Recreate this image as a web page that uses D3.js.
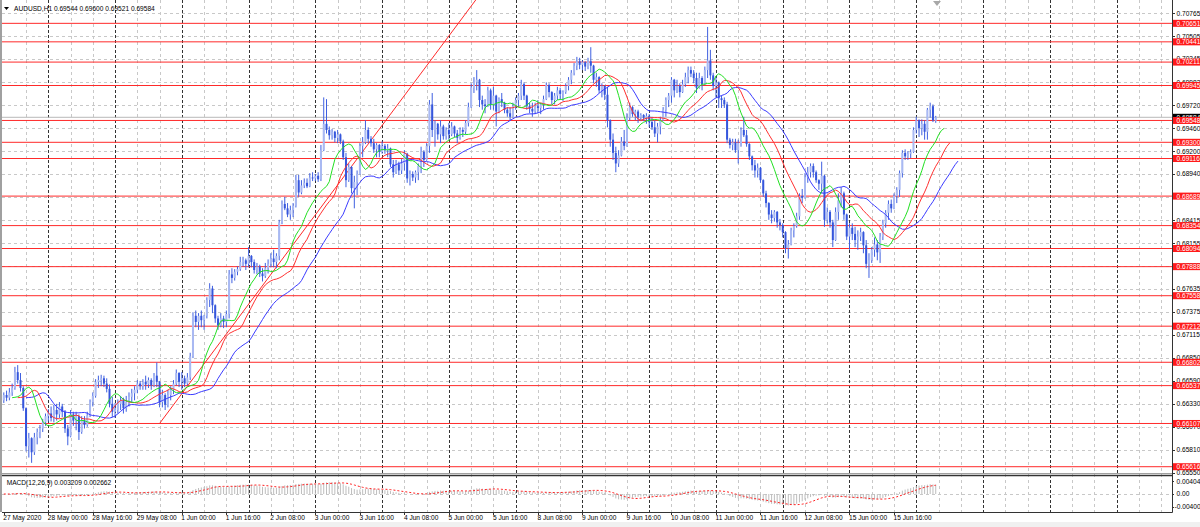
<!DOCTYPE html>
<html><head><meta charset="utf-8">
<script src="https://cdn.jsdelivr.net/npm/d3@7"></script>
<style>html,body{margin:0;padding:0;background:#fff;overflow:hidden}text{font-family:"Liberation Sans",Arial,sans-serif;font-size:6.6px}</style>
</head><body><svg id="c" width="1200" height="527"></svg>
<script>
// ---------------- DATA ----------------
const symbolTitle = "AUDUSD,H1 0.69544 0.69600 0.69521 0.69584";
const macdTitle = "MACD(12,26,9) 0.003209 0.002662";
const startTime = new Date(2020, 4, 27, 8); // first H1 bar
// [open, high, low, close]
const candles = [
[0.6637,0.6646,0.6634,0.6643],[0.6643,0.6648,0.6636,0.6640],[0.6640,0.6651,0.6637,0.6646],[0.6646,0.6656,0.6642,0.6651],
[0.6651,0.6675,0.6649,0.6669],[0.6669,0.6677,0.6656,0.6660],[0.6660,0.6668,0.6647,0.6651],[0.6651,0.6653,0.6625,0.6628],
[0.6628,0.6629,0.6579,0.6585],[0.6585,0.6600,0.6572,0.6594],[0.6594,0.6595,0.6566,0.6578],[0.6578,0.6600,0.6575,0.6595],
[0.6595,0.6605,0.6587,0.6601],[0.6601,0.6609,0.6594,0.6605],[0.6605,0.6616,0.6601,0.6612],[0.6612,0.6622,0.6608,0.6619],
[0.6619,0.6627,0.6613,0.6622],[0.6622,0.6630,0.6613,0.6617],[0.6617,0.6632,0.6612,0.6626],[0.6626,0.6633,0.6614,0.6621],
[0.6621,0.6635,0.6617,0.6630],[0.6630,0.6633,0.6618,0.6624],[0.6624,0.6626,0.6600,0.6605],[0.6605,0.6609,0.6586,0.6596],
[0.6596,0.6626,0.6595,0.6621],[0.6621,0.6624,0.6608,0.6614],[0.6614,0.6624,0.6603,0.6619],[0.6619,0.6621,0.6592,0.6601],
[0.6601,0.6619,0.6599,0.6614],[0.6614,0.6619,0.6605,0.6609],[0.6609,0.6624,0.6607,0.6620],[0.6620,0.6638,0.6618,0.6635],
[0.6635,0.6646,0.6630,0.6642],[0.6642,0.6661,0.6640,0.6658],[0.6658,0.6665,0.6651,0.6660],[0.6660,0.6666,0.6653,0.6662],
[0.6662,0.6665,0.6652,0.6656],[0.6656,0.6662,0.6646,0.6650],[0.6650,0.6655,0.6629,0.6633],[0.6633,0.6641,0.6618,0.6624],
[0.6624,0.6634,0.6617,0.6626],[0.6626,0.6638,0.6622,0.6633],[0.6633,0.6642,0.6626,0.6637],[0.6637,0.6640,0.6622,0.6628],
[0.6628,0.6642,0.6624,0.6635],[0.6635,0.6646,0.6630,0.6641],[0.6641,0.6650,0.6634,0.6645],[0.6645,0.6653,0.6637,0.6649],
[0.6649,0.6660,0.6645,0.6656],[0.6656,0.6659,0.6649,0.6653],[0.6653,0.6661,0.6649,0.6658],[0.6658,0.6665,0.6649,0.6655],
[0.6655,0.6663,0.6651,0.6660],[0.6660,0.6662,0.6649,0.6654],[0.6654,0.6668,0.6652,0.6665],[0.6665,0.6680,0.6652,0.6658],
[0.6658,0.6659,0.6629,0.6635],[0.6635,0.6649,0.6629,0.6643],[0.6643,0.6645,0.6626,0.6632],[0.6632,0.6649,0.6629,0.6643],
[0.6643,0.6653,0.6637,0.6649],[0.6649,0.6660,0.6644,0.6656],[0.6656,0.6672,0.6654,0.6668],[0.6668,0.6669,0.6652,0.6658],
[0.6658,0.6669,0.6649,0.6662],[0.6662,0.6665,0.6652,0.6656],[0.6656,0.6668,0.6654,0.6663],[0.6663,0.6691,0.6660,0.6687],
[0.6687,0.6737,0.6685,0.6733],[0.6733,0.6739,0.6720,0.6726],[0.6726,0.6736,0.6717,0.6733],[0.6733,0.6739,0.6720,0.6728],
[0.6728,0.6734,0.6717,0.6733],[0.6733,0.6754,0.6730,0.6751],[0.6751,0.6770,0.6743,0.6764],[0.6764,0.6767,0.6736,0.6745],
[0.6745,0.6746,0.6725,0.6730],[0.6730,0.6733,0.6717,0.6722],[0.6722,0.6736,0.6720,0.6730],[0.6730,0.6733,0.6719,0.6726],
[0.6726,0.6739,0.6720,0.6735],[0.6735,0.6785,0.6730,0.6780],[0.6780,0.6787,0.6770,0.6776],[0.6776,0.6786,0.6773,0.6783],
[0.6783,0.6789,0.6779,0.6786],[0.6786,0.6800,0.6784,0.6794],[0.6794,0.6800,0.6789,0.6796],[0.6796,0.6798,0.6785,0.6792],
[0.6792,0.6811,0.6788,0.6801],[0.6801,0.6802,0.6788,0.6794],[0.6794,0.6797,0.6781,0.6785],[0.6785,0.6793,0.6780,0.6789],
[0.6789,0.6791,0.6777,0.6781],[0.6781,0.6787,0.6772,0.6778],[0.6778,0.6793,0.6776,0.6787],[0.6787,0.6797,0.6781,0.6792],
[0.6792,0.6804,0.6788,0.6798],[0.6798,0.6808,0.6788,0.6794],[0.6794,0.6804,0.6787,0.6801],[0.6801,0.6842,0.6796,0.6839],
[0.6839,0.6864,0.6837,0.6860],[0.6860,0.6868,0.6853,0.6855],[0.6855,0.6861,0.6845,0.6848],[0.6848,0.6858,0.6842,0.6853],
[0.6853,0.6861,0.6845,0.6858],[0.6858,0.6893,0.6856,0.6887],[0.6887,0.6893,0.6868,0.6873],[0.6873,0.6887,0.6871,0.6881],
[0.6881,0.6889,0.6878,0.6884],[0.6884,0.6889,0.6878,0.6880],[0.6880,0.6895,0.6879,0.6890],[0.6890,0.6896,0.6886,0.6889],
[0.6889,0.6894,0.6886,0.6892],[0.6892,0.6896,0.6885,0.6888],[0.6888,0.6927,0.6886,0.6921],[0.6921,0.6981,0.6920,0.6951],
[0.6951,0.6979,0.6940,0.6944],[0.6944,0.6948,0.6933,0.6938],[0.6938,0.6945,0.6933,0.6942],[0.6942,0.6943,0.6930,0.6935],
[0.6935,0.6944,0.6929,0.6939],[0.6939,0.6940,0.6928,0.6931],[0.6931,0.6933,0.6910,0.6913],[0.6913,0.6918,0.6879,0.6887],
[0.6887,0.6906,0.6885,0.6902],[0.6902,0.6903,0.6872,0.6878],[0.6878,0.6892,0.6855,0.6885],[0.6885,0.6898,0.6870,0.6894],
[0.6894,0.6929,0.6893,0.6926],[0.6926,0.6936,0.6913,0.6930],[0.6930,0.6955,0.6928,0.6944],[0.6944,0.6947,0.6929,0.6934],
[0.6934,0.6937,0.6925,0.6929],[0.6929,0.6934,0.6918,0.6922],[0.6922,0.6929,0.6913,0.6927],[0.6927,0.6928,0.6913,0.6919],
[0.6919,0.6931,0.6917,0.6926],[0.6926,0.6928,0.6917,0.6921],[0.6921,0.6928,0.6913,0.6923],[0.6923,0.6924,0.6902,0.6905],
[0.6905,0.6910,0.6890,0.6896],[0.6896,0.6910,0.6894,0.6905],[0.6905,0.6908,0.6893,0.6898],[0.6898,0.6911,0.6894,0.6906],
[0.6906,0.6921,0.6898,0.6917],[0.6917,0.6918,0.6884,0.6889],[0.6889,0.6898,0.6881,0.6894],[0.6894,0.6897,0.6886,0.6890],
[0.6890,0.6898,0.6884,0.6896],[0.6896,0.6906,0.6887,0.6903],[0.6903,0.6925,0.6895,0.6919],[0.6919,0.6921,0.6902,0.6910],
[0.6910,0.6929,0.6909,0.6926],[0.6926,0.6978,0.6918,0.6973],[0.6973,0.6986,0.6936,0.6944],[0.6944,0.6955,0.6925,0.6951],
[0.6951,0.6952,0.6933,0.6939],[0.6939,0.6955,0.6929,0.6948],[0.6948,0.6950,0.6933,0.6937],[0.6937,0.6947,0.6933,0.6944],
[0.6944,0.6952,0.6933,0.6939],[0.6939,0.6953,0.6937,0.6948],[0.6948,0.6949,0.6936,0.6940],[0.6940,0.6944,0.6929,0.6935],
[0.6935,0.6947,0.6933,0.6944],[0.6944,0.6947,0.6936,0.6942],[0.6942,0.6955,0.6939,0.6952],[0.6952,0.6975,0.6948,0.6970],
[0.6970,0.6997,0.6969,0.6992],[0.6992,0.7004,0.6986,0.6998],[0.6998,0.7012,0.6989,0.7001],[0.7001,0.7002,0.6970,0.6978],
[0.6978,0.6983,0.6967,0.6973],[0.6973,0.6979,0.6963,0.6971],[0.6971,0.6993,0.6970,0.6989],[0.6989,0.6991,0.6967,0.6973],
[0.6973,0.6993,0.6967,0.6983],[0.6983,0.6984,0.6948,0.6965],[0.6965,0.6981,0.6963,0.6979],[0.6979,0.6986,0.6970,0.6975],
[0.6975,0.6976,0.6963,0.6967],[0.6967,0.6970,0.6959,0.6963],[0.6963,0.6970,0.6955,0.6959],[0.6959,0.6975,0.6958,0.6971],
[0.6971,0.6981,0.6967,0.6978],[0.6978,0.6986,0.6970,0.6983],[0.6983,0.7001,0.6978,0.6996],[0.6996,0.6998,0.6978,0.6983],
[0.6983,0.6984,0.6967,0.6971],[0.6971,0.6975,0.6963,0.6968],[0.6968,0.6975,0.6959,0.6965],[0.6965,0.6975,0.6962,0.6971],
[0.6971,0.6978,0.6963,0.6969],[0.6969,0.6975,0.6962,0.6973],[0.6973,0.6983,0.6967,0.6979],[0.6979,0.6998,0.6978,0.6995],
[0.6995,0.6997,0.6981,0.6987],[0.6987,0.6988,0.6973,0.6978],[0.6978,0.6986,0.6973,0.6983],[0.6983,0.6993,0.6978,0.6989],
[0.6989,0.6992,0.6978,0.6985],[0.6985,0.6989,0.6977,0.6987],[0.6987,0.6997,0.6985,0.6994],[0.6994,0.7004,0.6989,0.7001],
[0.7001,0.7012,0.6996,0.7009],[0.7009,0.7020,0.7006,0.7017],[0.7017,0.7027,0.7012,0.7022],[0.7022,0.7026,0.7013,0.7018],
[0.7018,0.7023,0.7012,0.7021],[0.7021,0.7022,0.7011,0.7016],[0.7016,0.7026,0.7013,0.7022],[0.7022,0.7038,0.7009,0.7017],
[0.7017,0.7018,0.6997,0.7001],[0.7001,0.7009,0.6993,0.7004],[0.7004,0.7005,0.6986,0.6989],[0.6989,0.6997,0.6981,0.6994],
[0.6994,0.6995,0.6978,0.6984],[0.6984,0.6993,0.6947,0.6955],[0.6955,0.6956,0.6925,0.6933],[0.6933,0.6940,0.6910,0.6918],
[0.6918,0.6925,0.6896,0.6906],[0.6906,0.6921,0.6902,0.6915],[0.6915,0.6936,0.6914,0.6931],[0.6931,0.6944,0.6921,0.6926],
[0.6926,0.6963,0.6925,0.6958],[0.6958,0.6975,0.6955,0.6970],[0.6970,0.6971,0.6959,0.6962],[0.6962,0.6967,0.6955,0.6965],
[0.6965,0.6967,0.6952,0.6958],[0.6958,0.6963,0.6954,0.6961],[0.6961,0.6962,0.6954,0.6958],[0.6958,0.6963,0.6951,0.6960],
[0.6960,0.6962,0.6947,0.6953],[0.6953,0.6959,0.6944,0.6947],[0.6947,0.6955,0.6936,0.6940],[0.6940,0.6952,0.6930,0.6948],
[0.6948,0.6959,0.6939,0.6955],[0.6955,0.6970,0.6954,0.6967],[0.6967,0.6981,0.6959,0.6978],[0.6978,0.6986,0.6970,0.6983],
[0.6983,0.7004,0.6975,0.7001],[0.7001,0.7002,0.6981,0.6989],[0.6989,0.7001,0.6986,0.6994],[0.6994,0.6997,0.6981,0.6987],
[0.6987,0.7001,0.6986,0.6996],[0.6996,0.7009,0.6993,0.7004],[0.7004,0.7016,0.6997,0.7012],[0.7012,0.7016,0.7004,0.7008],
[0.7008,0.7012,0.6997,0.7003],[0.7003,0.7009,0.6986,0.6992],[0.6992,0.7009,0.6991,0.7003],[0.7003,0.7005,0.6989,0.6996],
[0.6996,0.7016,0.6995,0.7012],[0.7012,0.7061,0.7003,0.7023],[0.7023,0.7035,0.7001,0.7006],[0.7006,0.7009,0.6989,0.6994],
[0.6994,0.7004,0.6981,0.6998],[0.6998,0.6999,0.6969,0.6980],[0.6980,0.6983,0.6969,0.6978],[0.6978,0.6981,0.6969,0.6973],
[0.6973,0.6976,0.6929,0.6933],[0.6933,0.6935,0.6923,0.6927],[0.6927,0.6934,0.6921,0.6930],[0.6930,0.6934,0.6918,0.6921],
[0.6921,0.6933,0.6906,0.6929],[0.6929,0.6947,0.6925,0.6944],[0.6944,0.6959,0.6936,0.6938],[0.6938,0.6944,0.6925,0.6928],
[0.6928,0.6929,0.6910,0.6914],[0.6914,0.6915,0.6898,0.6904],[0.6904,0.6910,0.6890,0.6898],[0.6898,0.6906,0.6890,0.6901],
[0.6901,0.6902,0.6884,0.6887],[0.6887,0.6888,0.6868,0.6872],[0.6872,0.6875,0.6856,0.6861],[0.6861,0.6862,0.6842,0.6848],
[0.6848,0.6853,0.6838,0.6844],[0.6844,0.6853,0.6840,0.6851],[0.6851,0.6852,0.6833,0.6839],[0.6839,0.6843,0.6830,0.6836],
[0.6836,0.6838,0.6822,0.6828],[0.6828,0.6829,0.6804,0.6810],[0.6810,0.6819,0.6798,0.6814],[0.6814,0.6833,0.6813,0.6830],
[0.6830,0.6838,0.6822,0.6835],[0.6835,0.6850,0.6833,0.6846],[0.6846,0.6872,0.6842,0.6869],[0.6869,0.6877,0.6861,0.6867],
[0.6867,0.6895,0.6866,0.6890],[0.6890,0.6902,0.6884,0.6896],[0.6896,0.6906,0.6890,0.6903],[0.6903,0.6906,0.6890,0.6896],
[0.6896,0.6898,0.6884,0.6887],[0.6887,0.6888,0.6876,0.6883],[0.6883,0.6908,0.6872,0.6892],[0.6892,0.6893,0.6834,0.6842],
[0.6842,0.6856,0.6838,0.6851],[0.6851,0.6853,0.6833,0.6839],[0.6839,0.6842,0.6811,0.6819],[0.6819,0.6856,0.6818,0.6851],
[0.6851,0.6872,0.6842,0.6864],[0.6864,0.6879,0.6856,0.6872],[0.6872,0.6874,0.6842,0.6848],[0.6848,0.6849,0.6819,0.6823],
[0.6823,0.6838,0.6808,0.6833],[0.6833,0.6838,0.6819,0.6826],[0.6826,0.6834,0.6811,0.6819],[0.6819,0.6830,0.6808,0.6823],
[0.6823,0.6833,0.6818,0.6828],[0.6828,0.6829,0.6804,0.6813],[0.6813,0.6819,0.6787,0.6792],[0.6792,0.6804,0.6776,0.6796],
[0.6796,0.6811,0.6793,0.6808],[0.6808,0.6822,0.6800,0.6814],[0.6814,0.6819,0.6796,0.6805],[0.6805,0.6827,0.6793,0.6823],
[0.6823,0.6842,0.6819,0.6838],[0.6838,0.6853,0.6833,0.6850],[0.6850,0.6864,0.6842,0.6860],[0.6860,0.6865,0.6850,0.6855],
[0.6855,0.6872,0.6854,0.6869],[0.6869,0.6879,0.6861,0.6876],[0.6876,0.6898,0.6868,0.6895],[0.6895,0.6921,0.6890,0.6918],
[0.6918,0.6922,0.6910,0.6914],[0.6914,0.6920,0.6910,0.6917],[0.6917,0.6922,0.6912,0.6919],[0.6919,0.6947,0.6918,0.6944],
[0.6944,0.6959,0.6940,0.6955],[0.6955,0.6956,0.6936,0.6946],[0.6946,0.6956,0.6938,0.6951],[0.6951,0.6955,0.6933,0.6942],
[0.6942,0.6969,0.6933,0.6967],[0.6967,0.6975,0.6958,0.6971],[0.6971,0.6973,0.6953,0.6955],[0.69544,0.69600,0.69521,0.69584]
];
const levels = [0.70651,0.70441,0.70211,0.69945,0.69548,0.69300,0.69116,0.68689,0.68354,0.68094,0.67888,0.67558,0.67212,0.66802,0.66537,0.66107,0.65616];
const bidPrice = 0.69584;
const priceTicks = ["0.70765","0.70505","0.70245","0.69983","0.69720","0.69460","0.69200","0.68940","0.68680","0.68415","0.68155","0.67895","0.67635","0.67375","0.67115","0.66850","0.66590","0.66330","0.66070","0.65810","0.65550"];
const macdTicks = ["0.00404","0.00","-0.00400"];
const trendPoints = [[56, 0.66107], [160, 0.70508]]; // [bar index, price]
const alligator = [ // period, shift, colour
  {name:"jaw",   period:13, shift:8, color:"#3b3bff"},
  {name:"teeth", period:8,  shift:5, color:"#ff3030"},
  {name:"lips",  period:5,  shift:3, color:"#22e022"}
];

// ---------------- LAYOUT ----------------
const W = 1200, H = 527, plotLeft = 2, plotRight = 1172;
const mainBottom = 472, macdTop = 476, macdBottom = 512;
const svg = d3.select("#c");
const x = d3.scaleLinear().domain([0, 420]).range([3.8, 1172.2]);
const y = d3.scaleLinear().domain([0.65556, 0.70916]).range([mainBottom, 0]);
const ym = d3.scaleLinear().domain([-0.00576, 0.00576]).range([macdBottom, macdTop]);

svg.append("rect").attr("width", W).attr("height", H).attr("fill", "#fff");
svg.append("rect").attr("y", 522).attr("width", W).attr("height", 5).attr("fill", "#f0f0f0");

const defs = svg.append("defs");
defs.append("clipPath").attr("id", "clipMain").append("rect")
  .attr("x", plotLeft).attr("y", 0).attr("width", plotRight - plotLeft).attr("height", mainBottom + 1);
defs.append("clipPath").attr("id", "clipMacd").append("rect")
  .attr("x", plotLeft).attr("y", macdTop).attr("width", plotRight - plotLeft).attr("height", macdBottom - macdTop);

// bar times (H1, weekends skipped)
const times = [];
let t = new Date(startTime);
while (times.length <= 420) {
  const d = t.getDay();
  if (d !== 0 && d !== 6) times.push(t);
  t = d3.timeHour.offset(t, 1);
}

// horizontal grid
const gGrid = svg.append("g");
priceTicks.forEach(s => {
  const yy = Math.round(y(+s)) + 0.5;
  gGrid.append("line").attr("x1", plotLeft).attr("x2", plotRight).attr("y1", yy).attr("y2", yy)
    .attr("stroke", "#c8c8c8").attr("stroke-dasharray", "3,3");
});
gGrid.append("line").attr("x1", plotLeft).attr("x2", plotRight).attr("y1", Math.round(ym(0)) + 0.5).attr("y2", Math.round(ym(0)) + 0.5)
  .attr("stroke", "#c8c8c8").attr("stroke-dasharray", "3,3");

// vertical grid + day separators
d3.range(8, 421, 8).forEach(i => {
  const sep = times[i].getHours() === 0;
  const xx = Math.round(x(i)) + 0.5;
  gGrid.append("line").attr("x1", xx).attr("x2", xx).attr("y1", 0).attr("y2", macdBottom)
    .attr("stroke", sep ? "#333" : "#c8c8c8").attr("stroke-dasharray", sep ? "3,2" : "3,3");
});

// main panel
const gMain = svg.append("g").attr("clip-path", "url(#clipMain)");
// bid line
gMain.append("line").attr("x1", plotLeft).attr("x2", plotRight).attr("y1", y(bidPrice)).attr("y2", y(bidPrice))
  .attr("stroke", "#b8b8b8");
// horizontal levels
levels.forEach(p => {
  gMain.append("line").attr("x1", plotLeft).attr("x2", plotRight).attr("y1", y(p)).attr("y2", y(p))
    .attr("stroke", "#ff2a2a").attr("stroke-width", 1);
});
// trend line (ray)
const [[b1, p1], [b2, p2]] = trendPoints;
const bEnd = 420, pEnd = p1 + (p2 - p1) * (bEnd - b1) / (b2 - b1);
gMain.append("line").attr("x1", x(b1)).attr("y1", y(p1)).attr("x2", x(bEnd)).attr("y2", y(pEnd))
  .attr("stroke", "#ff2a2a").attr("stroke-width", 1);

// candles
candles.forEach((c, i) => {
  const [o, h, l, cl] = c, cx = x(i);
  gMain.append("line").attr("x1", cx).attr("x2", cx).attr("y1", y(h)).attr("y2", y(l))
    .attr("stroke", "#3f60e0").attr("stroke-width", 1);
  const top = y(Math.max(o, cl)), bot = y(Math.min(o, cl));
  gMain.append("rect").attr("x", cx - 1).attr("width", 2).attr("y", top).attr("height", Math.max(0.8, bot - top))
    .attr("fill", cl >= o ? "#a9b9f2" : "#3556dc");
});

// Alligator (SMMA of median price, shifted forward)
const median = candles.map(c => (c[1] + c[2]) / 2);
function smma(src, n) { let v = src[0]; return src.map((p, i) => (v = i === 0 ? p : (v * (n - 1) + p) / n)); }
alligator.forEach(a => {
  const vals = smma(median, a.period);
  const line = d3.line().x((d, i) => x(i + a.shift)).y(d => y(d));
  gMain.append("path").attr("d", line(vals)).attr("fill", "none").attr("stroke", a.color).attr("stroke-width", 1);
});

// MACD panel
const closes = candles.map(c => c[3]);
function ema(src, n) { const k = 2 / (n + 1); let v = src[0]; return src.map((p, i) => (v = i === 0 ? p : p * k + v * (1 - k))); }
const e12 = ema(closes, 12), e26 = ema(closes, 26);
const macd = e12.map((v, i) => v - e26[i]);
const signal = macd.map((v, i) => d3.mean(macd.slice(Math.max(0, i - 8), i + 1)));
const gM = svg.append("g").attr("clip-path", "url(#clipMacd)");
macd.forEach((v, i) => {
  gM.append("line").attr("x1", x(i)).attr("x2", x(i)).attr("y1", ym(0)).attr("y2", ym(v))
    .attr("stroke", "#bdbdbd").attr("stroke-width", 1);
});
gM.append("path").attr("d", d3.line().x((d, i) => x(i)).y(d => ym(d))(signal))
  .attr("fill", "none").attr("stroke", "#ff2020").attr("stroke-width", 1).attr("stroke-dasharray", "2,2");

// frames
svg.append("rect").attr("x", 0).attr("y", 0).attr("width", 2).attr("height", macdBottom).attr("fill", "#a0a0a0");
svg.append("line").attr("x1", plotLeft).attr("x2", plotRight).attr("y1", 473.5).attr("y2", 473.5).attr("stroke", "#a0a0a0");
svg.append("line").attr("x1", plotLeft).attr("x2", plotRight).attr("y1", 475.5).attr("y2", 475.5).attr("stroke", "#333").attr("stroke-width", 1.5);
svg.append("line").attr("x1", plotLeft).attr("x2", plotRight + 0.5).attr("y1", macdBottom + 0.5).attr("y2", macdBottom + 0.5).attr("stroke", "#333");
svg.append("line").attr("x1", plotRight + 0.5).attr("x2", plotRight + 0.5).attr("y1", 0).attr("y2", macdBottom + 0.5).attr("stroke", "#333");

// right axis: price ticks
const gAx = svg.append("g");
priceTicks.forEach(s => {
  const yy = y(+s);
  gAx.append("line").attr("x1", plotRight).attr("x2", plotRight + 3).attr("y1", Math.round(yy) + 0.5).attr("y2", Math.round(yy) + 0.5).attr("stroke", "#333");
  gAx.append("text").attr("x", 1176.5).attr("y", yy + 2.4).attr("fill", "#000").text(s);
});
macdTicks.forEach(s => {
  const yy = ym(+s);
  gAx.append("line").attr("x1", plotRight).attr("x2", plotRight + 2).attr("y1", Math.round(yy) + 0.5).attr("y2", Math.round(yy) + 0.5).attr("stroke", "#333");
  gAx.append("text").attr("x", s.startsWith("-") ? 1174.6 : 1176.5).attr("y", yy + 2.4).attr("fill", "#000").text(s);
});
// bid label
gAx.append("rect").attr("x", 1173).attr("y", y(bidPrice) - 3.5).attr("width", 27).attr("height", 7).attr("fill", "#000");
gAx.append("text").attr("x", 1176.5).attr("y", y(bidPrice) + 2.4).attr("fill", "#fff").text(bidPrice.toFixed(5));
// level labels
levels.forEach(p => {
  gAx.append("rect").attr("x", 1173).attr("y", y(p) - 3.5).attr("width", 27).attr("height", 7).attr("fill", "#ff1a1a");
  gAx.append("text").attr("x", 1176.5).attr("y", y(p) + 2.4).attr("fill", "#fff").text(p.toFixed(5));
});

// time axis labels
const fFirst = d3.timeFormat("%-d %b %Y"), fOther = d3.timeFormat("%-d %b %H:%M");
d3.range(0, candles.length, 16).forEach(i => {
  const xx = Math.round(x(i)) + 0.5;
  svg.append("line").attr("x1", xx).attr("x2", xx).attr("y1", macdBottom).attr("y2", macdBottom + 3).attr("stroke", "#333");
  svg.append("text").attr("x", x(i) - 0.5).attr("y", 520.3).attr("fill", "#000")
    .text(i === 0 ? fFirst(times[i]) : fOther(times[i]));
});

// titles
svg.append("path").attr("d", "M4,7 L9,7 L6.5,10 Z").attr("fill", "#000");
svg.append("text").attr("x", 14).attr("y", 10.8).attr("fill", "#000").text(symbolTitle);
svg.append("text").attr("x", 6.7).attr("y", 485.2).attr("fill", "#000").text(macdTitle);
// chart-shift marker
svg.append("path").attr("d", "M933,1 L941,1 L937,6 Z").attr("fill", "#a8a8a8");
</script>
</body></html>
